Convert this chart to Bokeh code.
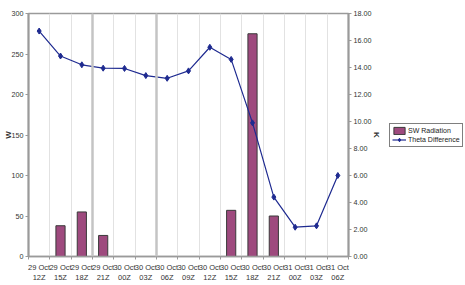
from bokeh.plotting import figure
from bokeh.layouts import row
from bokeh.models import (Range1d, LinearAxis, FixedTicker, Span, Legend, LegendItem,
                          NumeralTickFormatter, ColumnDataSource)
from bokeh.embed import file_html
from bokeh.resources import INLINE

categories = ["29 Oct\n12Z", "29 Oct\n15Z", "29 Oct\n18Z", "29 Oct\n21Z",
              "30 Oct\n00Z", "30 Oct\n03Z", "30 Oct\n06Z", "30 Oct\n09Z",
              "30 Oct\n12Z", "30 Oct\n15Z", "30 Oct\n18Z", "30 Oct\n21Z",
              "31 Oct\n00Z", "31 Oct\n03Z", "31 Oct\n06Z"]
sw_radiation = [0, 38, 55, 26, 0, 0, 0, 0, 0, 57, 275, 50, 0, 0, 0]
theta_difference = [16.7, 14.85, 14.2, 13.95, 13.93, 13.4, 13.2, 13.75,
                    15.5, 14.6, 9.9, 4.4, 2.17, 2.27, 6.0]
w_ticks = [0, 50, 100, 150, 200, 250, 300]
k_ticks = [0, 2, 4, 6, 8, 10, 12, 14, 16, 18]
separator_bounds = [3, 6]

n = len(categories)
centers = [i + 0.5 for i in range(n)]
bounds = list(range(n + 1))

FONT = "Liberation Sans"
TXT = "#333333"
AX = "#9a9a9a"
BAR = "#9e4a7e"
LINE = "#1e2a90"

p = figure(width=384, height=285, output_backend="svg", toolbar_location=None,
           x_range=Range1d(0, n), y_range=Range1d(0, 300),
           min_border_left=25, min_border_right=35, min_border_top=13, min_border_bottom=28)
p.background_fill_color = "white"
p.border_fill_color = "white"
p.outline_line_color = AX
p.outline_line_width = 1.5

# grid
p.ygrid.visible = False
p.xgrid.ticker = FixedTicker(ticks=bounds[1:-1])
p.xgrid.grid_line_color = "#e2e2e2"
p.xgrid.grid_line_width = 1

for b in separator_bounds:
    p.add_layout(Span(location=b, dimension="height", line_color="#c4c4c4", line_width=2.5))

# bars (skip zero values)
nz = [i for i, v in enumerate(sw_radiation) if v != 0]
bar_src = ColumnDataSource(dict(x=[centers[i] for i in nz], top=[sw_radiation[i] for i in nz]))
bar_style = dict(fill_color=BAR, line_color="#3a3a3a", line_width=1)
bars = p.vbar(x="x", top="top", width=0.43, source=bar_src, **bar_style)

# right axis
p.extra_y_ranges = {"k": Range1d(0, 18)}

la = p.yaxis[0]
la.ticker = FixedTicker(ticks=w_ticks)
la.axis_label = "W"

ra = LinearAxis(y_range_name="k", ticker=FixedTicker(ticks=k_ticks),
                formatter=NumeralTickFormatter(format="0.00"), axis_label="K")
p.add_layout(ra, "right")

for ax in (la, ra):
    ax.axis_line_color = AX
    ax.axis_line_width = 2
    ax.major_tick_line_color = AX
    ax.major_tick_out = 3
    ax.major_tick_in = 0
    ax.minor_tick_line_color = None
    ax.major_label_standoff = 2
    ax.major_label_text_font = FONT
    ax.major_label_text_font_size = "7.2px"
    ax.major_label_text_color = TXT
    ax.axis_label_text_font = FONT
    ax.axis_label_text_font_size = "8px"
    ax.axis_label_text_font_style = "bold"
    ax.axis_label_text_color = TXT
la.axis_label_standoff = -4
ra.axis_label_standoff = -2

xa = p.xaxis[0]
xa.ticker = FixedTicker(ticks=centers, minor_ticks=bounds)
xa.major_label_overrides = {c: lab for c, lab in zip(centers, categories)}
xa.axis_line_color = AX
xa.axis_line_width = 1.5
xa.major_tick_line_color = None
xa.major_tick_out = 3
xa.major_tick_in = 0
xa.minor_tick_line_color = AX
xa.minor_tick_out = 3
xa.minor_tick_in = 0
xa.major_label_standoff = 3
xa.major_label_text_font = FONT
xa.major_label_text_font_size = "7.5px"
xa.major_label_text_color = TXT

# theta line
line_style = dict(line_color=LINE, line_width=1.2)
mark_style = dict(marker="diamond", size=6, fill_color=LINE, line_color=LINE)
line = p.line(centers, theta_difference, y_range_name="k", **line_style)
marks = p.scatter(centers, theta_difference, y_range_name="k", **mark_style)

# legend panel (separate figure to the right of the chart)
lg = figure(width=81, height=285, output_backend="svg", toolbar_location=None,
            x_axis_location=None, y_axis_location=None, min_border=0,
            x_range=Range1d(0, 1), y_range=Range1d(0, 1))
lg.grid.visible = False
lg.outline_line_color = None
lg.background_fill_color = "white"
lg.border_fill_color = "white"
nan = float("nan")
proxy = ColumnDataSource(dict(x=[nan], y=[nan], top=[nan]))
lbars = lg.vbar(x="x", top="top", width=0.1, source=proxy, **bar_style)
lline = lg.line(x="x", y="y", source=proxy, **line_style)
lmarks = lg.scatter(x="x", y="y", source=proxy, **mark_style)

legend = Legend(items=[LegendItem(label="SW Radiation", renderers=[lbars]),
                       LegendItem(label="Theta Difference", renderers=[lline, lmarks])],
                location=(5, 109))
legend.border_line_color = "black"
legend.border_line_width = 1
legend.background_fill_color = "white"
legend.background_fill_alpha = 1
legend.label_text_font = FONT
legend.label_text_font_size = "7px"
legend.label_text_color = "#222222"
legend.label_height = 9
legend.glyph_height = 9
legend.glyph_width = 14
legend.label_standoff = 2
legend.padding = 2
legend.spacing = 0
legend.margin = 0
lg.add_layout(legend)

layout = row(p, lg, spacing=0)
open("out.html", "w").write(file_html(layout, INLINE))
